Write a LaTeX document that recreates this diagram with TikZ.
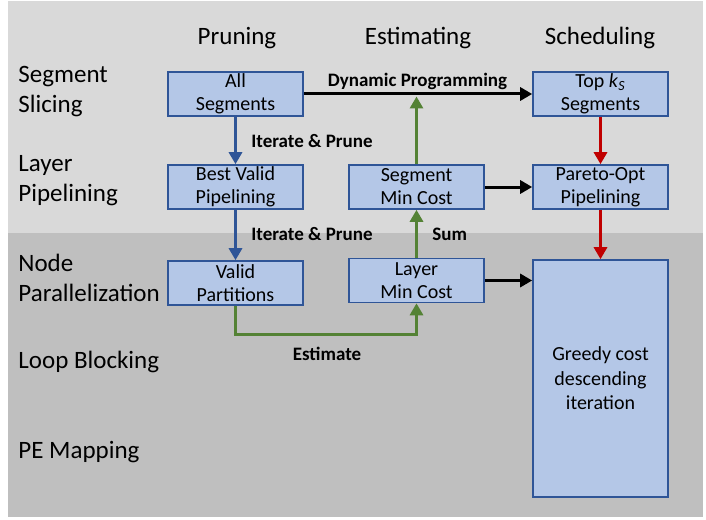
\documentclass[tikz,border=0pt]{standalone}
\usepackage{fontspec}
\setmainfont{Carlito}
\usetikzlibrary{arrows.meta}
\definecolor{bgA}{HTML}{D9D9D9}
\definecolor{bgB}{HTML}{BFBFBF}
\definecolor{boxfill}{HTML}{B4C7E7}
\definecolor{boxdraw}{HTML}{2F5597}
\definecolor{arrblue}{HTML}{2F5597}
\definecolor{arrgreen}{HTML}{548235}
\definecolor{arrred}{HTML}{C00000}
\begin{document}
\begin{tikzpicture}[x=0.5pt,y=-0.5pt,
 box/.style={draw=boxdraw, fill=boxfill, line width=0.8pt, minimum width=67.5pt, minimum height=22pt, inner sep=0pt, align=center, font=\fontsize{10}{11.5}\selectfont},
 hdr/.style={font=\fontsize{12.5}{15}\selectfont, inner sep=0pt},
 rowlab/.style={anchor=west, align=left, font=\fontsize{12.5}{15}\selectfont, inner sep=0pt},
 lab/.style={font=\bfseries\fontsize{9.5}{11}\selectfont, inner sep=0pt},
 conn/.style={line width=1.5pt, -{Triangle[width=6.5pt,length=6pt]}},
]
\useasboundingbox (0,0) rectangle (706,519);
\fill[bgA] (8,1) rectangle (703,233);
\fill[bgB] (8,233) rectangle (703,517);

% column headers
\node[hdr] (hP) at (237,38) {Pruning};
\node[hdr] (hE) at (418,38) {Estimating};
\node[hdr] (hS) at (600,38) {Scheduling};

% row labels
\node[rowlab] (rSS) at (18,92) {Segment\\Slicing};
\node[rowlab] (rLP) at (18,181) {Layer\\Pipelining};
\node[rowlab] (rNP) at (18,278) {Node\\Parallelization};
\node[rowlab, anchor=base west] (rLB) at (18,368) {Loop Blocking};
\node[rowlab, anchor=base west] (rPE) at (18,458) {PE Mapping};

% boxes
\node[box] (all) at (235.5,94) {All\\Segments};
\node[box] (best) at (235.5,187) {Best Valid\\Pipelining};
\node[box] (valid) at (235.5,283) {Valid\\Partitions};
\node[box] (segmin) at (416.5,187) {Segment\\Min Cost};
\node[box] (laymin) at (416.5,280.5) {Layer\\Min Cost};
\node[box] (topk) at (600.5,94) {Top \textit{k}\textsubscript{\textit{S}}\\Segments};
\node[box] (pareto) at (600.5,187) {Pareto-Opt\\Pipelining};
\node[box, minimum height=118.5pt, font=\fontsize{10}{12.2}\selectfont] (greedy) at (600.5,378.5) {Greedy cost\\descending\\iteration};

% connectors
\coordinate (dpend) at (416.5,96.5);
\coordinate (bend) at (235.5,334);
\draw[conn, black] (all.east) -- (topk.west);
\draw[conn, arrgreen] (segmin.north) -- (dpend);
\draw[conn, arrblue] (all.south) -- (best.north);
\draw[conn, arrblue] (best.south) -- (valid.north);
\draw[conn, black] (segmin.east) -- (pareto.west);
\draw[conn, arrred] (topk.south) -- (pareto.north);
\draw[conn, arrred] (pareto.south) -- (greedy.north);
\draw[conn, arrgreen] (laymin.north) -- (segmin.south);
\draw[conn, black] (laymin.east) -- (laymin.east -| greedy.west);
\draw[conn, arrgreen] (valid.south) -- (bend) -| (laymin.south);

% labels
\node[lab] (dp) at (417.5,81) {Dynamic Programming};
\node[lab, anchor=west] (ip1) at (251,141) {Iterate \& Prune};
\node[lab, anchor=west] (ip2) at (251,234) {Iterate \& Prune};
\node[lab, anchor=west] (sum) at (432,234) {Sum};
\node[lab] (est) at (327,354) {Estimate};
\end{tikzpicture}
\end{document}
